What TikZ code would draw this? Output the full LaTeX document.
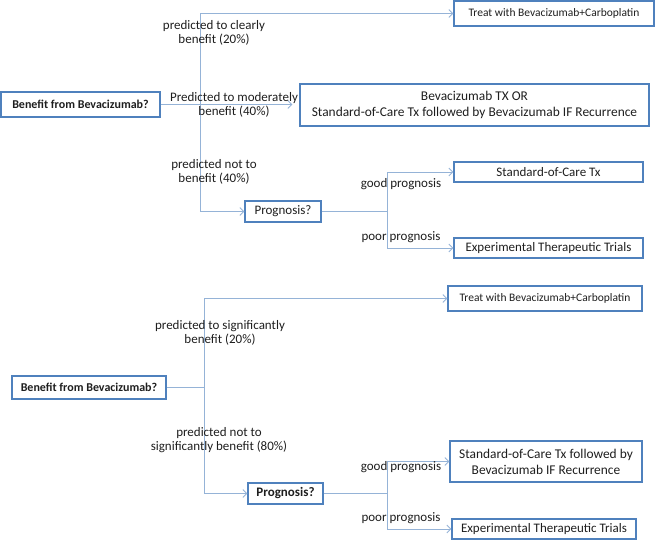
\documentclass[tikz,border=0pt]{standalone}
\usepackage{fontspec}
\setmainfont{Carlito}
\usetikzlibrary{arrows.meta}
\definecolor{boxc}{RGB}{79,129,189}
\definecolor{linec}{RGB}{149,179,215}
\definecolor{txt}{RGB}{30,30,30}
\begin{document}
\begin{tikzpicture}[x=1pt,y=-1pt,
  box/.style={draw=boxc,line width=1.3pt,inner sep=0pt,text=txt,font=\fontsize{13}{16}\selectfont,align=center},
  big/.style={font=\fontsize{13.4}{16}\selectfont},
  small/.style={font=\fontsize{11.5}{13}\selectfont},
  boldsm/.style={font=\fontsize{12}{14}\selectfont\bfseries},
  lbl/.style={text=txt,font=\fontsize{13}{14}\selectfont,align=center,inner sep=0pt},
  conn/.style={draw=linec,line width=0.9pt},
  arr/.style={conn,-{Straight Barb[length=4pt,width=8pt,line width=0.8pt]}}]
\useasboundingbox (0,0) rectangle (656,541);
% ---------- top ----------
\node[box,boldsm,minimum width=159,minimum height=25] (b1) at (80.5,104.5) {Benefit from Bevacizumab?};
\node[box,small,minimum width=200,minimum height=25] (t1) at (554,13.5) {Treat with Bevacizumab+Carboplatin};
\node[box,big,minimum width=349,minimum height=42] (m1) at (474.5,105) {Bevacizumab TX OR\\Standard-of-Care Tx followed by Bevacizumab IF Recurrence};
\node[box,minimum width=76,minimum height=21] (p1) at (283,211.5) {Prognosis?};
\node[box,minimum width=189,minimum height=20] (s1) at (548.5,172) {Standard-of-Care Tx};
\node[box,minimum width=189,minimum height=20] (e1) at (548.5,248) {Experimental Therapeutic Trials};
\coordinate (j1) at (200,104.5);
\coordinate (k1) at (387,211.5);
\draw[conn] (b1.east) -- (j1);
\draw[arr] (j1) |- (t1.west);
\draw[arr,shorten >=7pt] (j1) -- (m1.west |- j1);
\draw[arr] (j1) |- (p1.west);
\draw[conn] (p1.east) -- (k1);
\draw[arr] (k1) |- (s1.west);
\draw[arr] (k1) |- (e1.west);
\node[lbl] (l1) at (214,33) {predicted to clearly\\benefit (20\%)};
\node[lbl] (l2) at (234,105) {Predicted to moderately\\benefit (40\%)};
\node[lbl] (l3) at (214,171.5) {predicted not to\\benefit (40\%)};
\node[lbl] (l4) at (401,184) {good prognosis};
\node[lbl] (l5) at (401,237) {poor prognosis};
% ---------- bottom ----------
\node[box,boldsm,minimum width=154,minimum height=23] (b2) at (89,387.5) {Benefit from Bevacizumab?};
\node[box,small,minimum width=194,minimum height=25] (t2) at (545,298.5) {Treat with Bevacizumab+Carboplatin};
\node[box,minimum width=75,minimum height=21,font=\fontsize{13}{16}\selectfont\bfseries] (p2) at (285.5,493.5) {Prognosis?};
\node[box,big,minimum width=192,minimum height=41] (s2) at (546,461.5) {Standard-of-Care Tx followed by\\Bevacizumab IF Recurrence};
\node[box,minimum width=184,minimum height=20] (e2) at (544,529) {Experimental Therapeutic Trials};
\coordinate (j2) at (204,387.5);
\coordinate (k2) at (387,493.5);
\draw[conn] (b2.east) -- (j2);
\draw[arr] (j2) |- (t2.west);
\draw[arr] (j2) |- (p2.west);
\draw[conn] (p2.east) -- (k2);
\draw[arr] (k2) |- (s2.west);
\draw[arr] (k2) |- (e2.west);
\node[lbl] (l6) at (220,333) {predicted to significantly\\benefit (20\%)};
\node[lbl] (l7) at (219,440.5) {predicted not to\\significantly benefit (80\%)};
\node[lbl] (l8) at (401,467) {good prognosis};
\node[lbl] (l9) at (401,518) {poor prognosis};
\end{tikzpicture}
\end{document}
